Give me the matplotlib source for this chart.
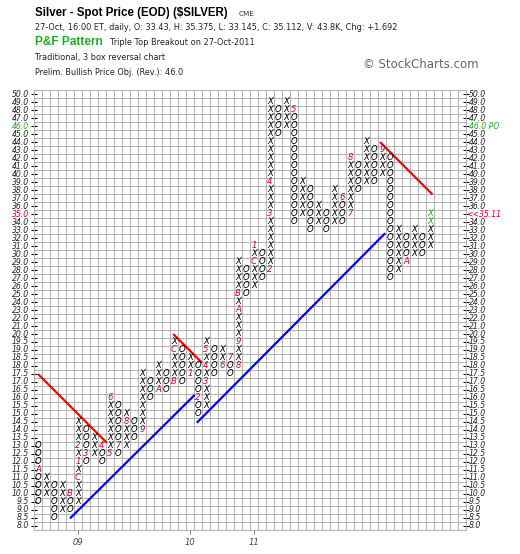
import matplotlib.pyplot as plt
import numpy as np

# --- price scale (box size 0.5 up to 20, then 1) ---
levels = [8.0, 8.5, 9.0, 9.5, 10.0, 10.5, 11.0, 11.5, 12.0, 12.5, 13.0, 13.5,
          14.0, 14.5, 15.0, 15.5, 16.0, 16.5, 17.0, 17.5, 18.0, 18.5, 19.0,
          19.5, 20.0, 21, 22, 23, 24, 25, 26, 27, 28, 29, 30, 31, 32, 33, 34,
          35, 36, 37, 38, 39, 40, 41, 42, 43, 44, 45, 46, 47, 48, 49, 50]

# --- P&F columns: kind, lowest box, highest box ---
col_kind = ['O', 'X'] * 25
col_low = [9.5, 10.0, 8.5, 9.0, 9.0, 9.5, 12.0, 12.5, 12.0, 12.5,
           12.5, 13.0, 13.5, 14.0, 16.0, 16.5, 16.5, 17.0, 17.0, 17.5,
           15.0, 15.5, 17.5, 18.0, 17.5, 18.0, 25, 26, 27, 28,
           45, 46, 34, 35, 33, 34, 33, 34, 34, 35,
           38, 39, 39, 40, 27, 28, 29, 30, 30, 31]
col_high = [13.0, 11.0, 10.5, 10.5, 10.0, 14.5, 14.0, 13.5, 13.0, 16.0,
            15.5, 15.0, 14.5, 17.5, 17.0, 18.0, 17.5, 19.5, 19.0, 18.5,
            18.0, 19.5, 19.0, 19.0, 18.5, 29, 28, 31, 30, 49,
            48, 49, 48, 39, 38, 36, 35, 38, 37, 42,
            41, 44, 43, 43, 42, 33, 32, 33, 32, 35]

# month markers (column, price, label)
month_col = [0, 4, 5, 5, 5, 6, 8, 9, 9, 10, 11, 13, 15, 17, 17, 19, 20, 21, 21,
             21, 23, 24, 25, 25, 25, 25, 27, 27, 29, 29, 29, 32, 38, 39, 39,
             43, 46]
month_price = [11.5, 10.0, 11.0, 12.0, 13.0, 12.5, 13.0, 12.5, 16.0, 13.0,
               14.5, 14.0, 16.5, 17.0, 19.0, 17.5, 16.0, 17.0, 18.0, 19.0,
               18.0, 18.5, 18.0, 19.5, 23, 25, 29, 31, 28, 35, 39, 48, 37,
               35, 42, 43, 29]
month_label = ['A', 'B', 'C', '1', '2', '3', '4', '5', '6', '7', '8', '9', 'A',
               'B', 'C', '1', '2', '3', '4', '5', '6', '7', '8', '9', 'A', 'B',
               'C', '1', '2', '3', '4', '5', '6', '7', '8', '9', 'A']

# latest boxes (breakout)
new_col = [49, 49]
new_price = [34, 35]

# trend lines in (column, box index) units
red_lines = [[(0.0, 19.0), (8.6, 10.4)],
             [(16.9, 24.0), (20.5, 20.4)],
             [(42.75, 48.0), (49.3, 41.45)]]
blue_lines = [[(4.0, 0.95), (19.6, 16.4)],
              [(19.85, 12.9), (43.4, 36.6)]]

year_col = [5, 19, 27]
year_label = ['09', '10', '11']

n_cols = 54
W, H = 520, 554
fig = plt.figure(figsize=(W / 100, H / 100), dpi=100)
ax = fig.add_axes([34 / W, (H - 530) / H, 432 / W, 440 / H])
ax.set_xlim(-0.5, n_cols - 0.5)
ax.set_ylim(-0.5, len(levels) - 0.5)

grid_col = '#b4b4b4'
ax.set_xticks(np.arange(-0.5, n_cols, 1), minor=True)
ax.set_yticks(np.arange(-0.5, len(levels), 1), minor=True)
ax.grid(which='minor', color=grid_col, lw=0.75)
ax.tick_params(which='minor', length=0)
for s in ax.spines.values():
    s.set_color(grid_col)
    s.set_linewidth(0.75)

ax.set_yticks(range(len(levels)))
ax.set_yticklabels([])
ax.tick_params(axis='y', which='major', direction='inout', length=4, width=0.75,
               left=True, right=True, color='black')
ax.set_xticks(year_col)
ax.set_xticklabels(year_label, fontsize=6, style='italic', color='#444444')
ax.tick_params(axis='x', which='major', direction='out', length=3, width=0.75,
               color='#888888', pad=3)

idx = {v: i for i, v in enumerate(levels)}

# axis labels
ytr = ax.get_yaxis_transform()
lab_kw = dict(fontsize=5.6, style='italic', va='center', transform=ytr)
for i, v in enumerate(levels):
    txt = f'{v:.1f}'
    c = '#222222'
    if v == 35:
        c = '#cc0033'
    elif v == 46:
        c = '#22aa22'
    ax.text(-0.012, i, txt, ha='right', color=c, **lab_kw)
    if v == 35:
        ax.text(1.0, i, '<<35.11', ha='left', color='#cc0033', **lab_kw)
    elif v == 46:
        ax.text(1.006, i, '46.0 PO', ha='left', color='#22aa22', **lab_kw)
    else:
        ax.text(1.006, i, txt, ha='left', color=c, **lab_kw)

# boxes
special = {(c, idx[p]): m for c, p, m in zip(month_col, month_price, month_label)}
greens = {(c, idx[p]) for c, p in zip(new_col, new_price)}
box_kw = dict(ha='center', va='center', fontsize=6.1, style='italic')
for c, (k, lo, hi) in enumerate(zip(col_kind, col_low, col_high)):
    for r in range(idx[lo], idx[hi] + 1):
        if (c, r) in special:
            ax.text(c, r + 0.05, special[(c, r)], color='#cc0033', **box_kw)
        elif (c, r) in greens:
            ax.text(c, r + 0.05, k, color='#22aa22', **box_kw)
        else:
            ax.text(c, r + 0.05, k, color='black', **box_kw)

for (x0, y0), (x1, y1) in red_lines:
    ax.plot([x0, x1], [y0, y1], color='#ff0000', lw=1.6, solid_capstyle='butt')
for (x0, y0), (x1, y1) in blue_lines:
    ax.plot([x0, x1], [y0, y1], color='#0000ff', lw=1.6, solid_capstyle='butt')


def ftext(x, y, s, **kw):
    fig.text(x / W, 1 - y / H, s, va='center', ha='left', **kw)


ftext(35, 13, 'Silver - Spot Price (EOD) ($SILVER)', fontsize=8.3,
      fontweight='bold', family='Liberation Sans')
ftext(239, 13.5, 'CME', fontsize=5.2, color='#333333')
ftext(35, 27, '27-Oct, 16:00 ET, daily, O: 33.43, H: 35.375, L: 33.145, '
      'C: 35.112, V: 43.8K, Chg: +1.692', fontsize=5.9, color='#222222')
ftext(35, 42, 'P&F Pattern', fontsize=8.6, fontweight='bold',
      color='#22aa22', family='Liberation Sans')
ftext(110, 42.5, 'Triple Top Breakout on 27-Oct-2011', fontsize=5.9,
      color='#222222')
ftext(35, 57.5, 'Traditional, 3 box reversal chart', fontsize=5.9,
      color='#222222')
ftext(35, 72.5, 'Prelim. Bullish Price Obj. (Rev.): 46.0', fontsize=5.9,
      color='#222222')
ftext(363, 65, '\u00a9 StockCharts.com', fontsize=8.5, color='#666666')

fig.savefig('out.png', dpi=100)
